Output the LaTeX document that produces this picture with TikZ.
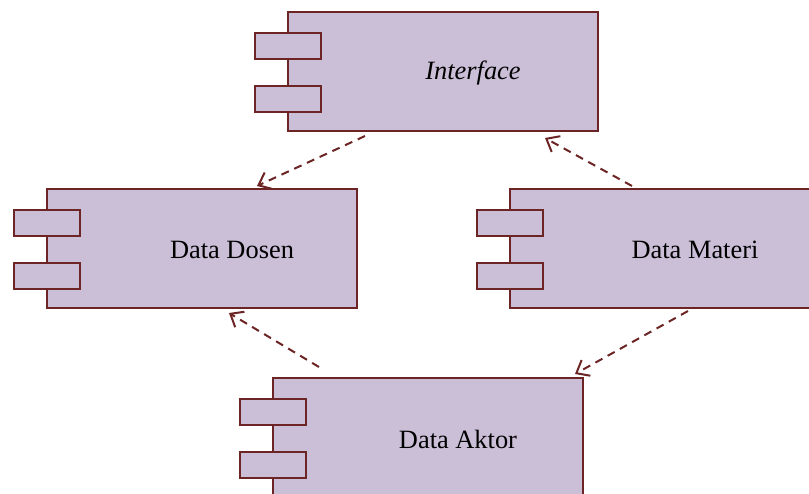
\documentclass[tikz,border=0pt]{standalone}
\usepackage{fontspec}
\setmainfont{Liberation Serif}
\usetikzlibrary{arrows.meta}
\definecolor{isi}{RGB}{203,191,216}
\definecolor{garis}{RGB}{108,36,36}
\tikzset{
	komp/.style={draw=garis, fill=isi, line width=2pt, minimum width=310pt, minimum height=119pt, inner sep=0pt, anchor=north west},
	tabkomp/.style={draw=garis, fill=isi, line width=2pt, minimum width=66pt, minimum height=26pt, inner sep=0pt, anchor=north west},
	teks/.style={font=\fontsize{26.4}{30}\selectfont, inner sep=0pt},
	dep/.style={draw=garis, line width=2pt, dash pattern=on 8pt off 6pt, -{Straight Barb[length=11pt,width=18pt]}}
}
\begin{document}
				\begin{tikzpicture}[x=1pt,y=-1pt]
					\clip (0,0) rectangle (809,493);
					\node[komp] (iface) at (287,11) {};
					\node[komp] (dosen) at (46,188) {};
					\node[komp] (materi) at (509,188) {};
					\node[komp] (aktor) at (272,377) {};
					\node[tabkomp] (iface-a) at (254,32) {};
					\node[tabkomp] (iface-b) at (254,85) {};
					\node[tabkomp] (dosen-a) at (13,209) {};
					\node[tabkomp] (dosen-b) at (13,262) {};
					\node[tabkomp] (materi-a) at (476,209) {};
					\node[tabkomp] (materi-b) at (476,262) {};
					\node[tabkomp] (aktor-a) at (239,398) {};
					\node[tabkomp] (aktor-b) at (239,451) {};
					\node[teks] (iface-t) at ([xshift=30pt,yshift=-1.5pt]iface.center) {\itshape Interface};
					\node[teks] (dosen-t) at ([xshift=30pt,yshift=-1.5pt]dosen.center) {Data Dosen};
					\node[teks] (materi-t) at ([xshift=30pt,yshift=-1.5pt]materi.center) {Data Materi};
					\node[teks] (aktor-t) at ([xshift=30pt,yshift=-1.5pt]aktor.center) {Data Aktor};
					\draw[dep] ([xshift=78pt,yshift=-4pt]iface.south west) -- ([xshift=211pt,yshift=2pt]dosen.north west);
					\draw[dep] ([xshift=123pt,yshift=2pt]materi.north west) -- ([xshift=258pt,yshift=-6pt]iface.south west);
					\draw[dep] ([xshift=47pt,yshift=10pt]aktor.north west) -- ([xshift=183pt,yshift=-4pt]dosen.south west);
					\draw[dep] ([xshift=179pt,yshift=-2pt]materi.south west) -- ([xshift=303pt,yshift=3pt]aktor.north west);
				\end{tikzpicture}
\end{document}
